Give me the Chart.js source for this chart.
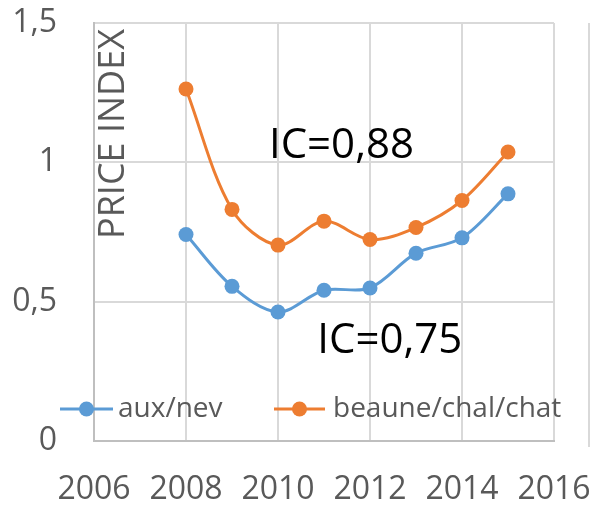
<!DOCTYPE html>
<html>
<head>
<meta charset="utf-8">
<script src="https://cdn.jsdelivr.net/npm/chart.js@4"></script>
<style>
  html, body { margin: 0; padding: 0; background: #fff; }
  #wrap { position: relative; width: 592px; height: 507px; }
  #edge { position: absolute; left: 588px; top: 23px; width: 0; height: 424px; border-left: 2px solid #d9d9d9; }
</style>
</head>
<body>
<div id="wrap">
  <canvas id="chart" width="592" height="507"></canvas>
  <div id="edge"></div>
</div>
<script>
const years = [2008, 2009, 2010, 2011, 2012, 2013, 2014, 2015];
const auxNev = [0.741, 0.555, 0.463, 0.541, 0.549, 0.674, 0.729, 0.887];
const beaune = [1.263, 0.831, 0.703, 0.789, 0.723, 0.766, 0.863, 1.037];
const seriesNames = ['aux/nev', 'beaune/chal/chat'];
const seriesColors = ['#5B9BD5', '#ED7D31'];
const annotations = [
    { text: 'IC=0,88', x: 2011.38, y: 1.06 },
    { text: 'IC=0,75', x: 2012.43, y: 0.36 }
];

const FONT = '"Open Sans", sans-serif';
const textGray = '#595959';

function fmt(v) {
    return String(v).replace('.', ',');
}

// extra texts and the legend drawn inside the plot, like the original
const overlay = {
    id: 'overlay',
    afterDatasetsDraw(chart) {
        const ctx = chart.ctx;
        const xs = chart.scales.x;
        const ys = chart.scales.y;
        ctx.save();

        // axis title sits inside the plot area
        ctx.translate(114, 134);
        ctx.rotate(-Math.PI / 2);
        ctx.font = '36px ' + FONT;
        ctx.fillStyle = textGray;
        ctx.textAlign = 'center';
        ctx.textBaseline = 'middle';
        ctx.fillText('PRICE INDEX', 0, 0);
        ctx.setTransform(1, 0, 0, 1, 0, 0);

        ctx.font = '42px ' + FONT;
        ctx.fillStyle = '#000';
        ctx.textAlign = 'center';
        ctx.textBaseline = 'middle';
        annotations.forEach(a => {
            ctx.fillText(a.text, xs.getPixelForValue(a.x), ys.getPixelForValue(a.y));
        });

        // legend
        const items = [{ x0: 60, x1: 113, tx: 118 }, { x0: 274, x1: 325, tx: 333 }];
        const ly = 409;
        ctx.font = '28px ' + FONT;
        ctx.textAlign = 'left';
        items.forEach((it, i) => {
            ctx.strokeStyle = seriesColors[i];
            ctx.lineWidth = 3;
            ctx.beginPath();
            ctx.moveTo(it.x0, ly);
            ctx.lineTo(it.x1, ly);
            ctx.stroke();
            ctx.fillStyle = seriesColors[i];
            ctx.beginPath();
            ctx.arc((it.x0 + it.x1) / 2, ly, 7.5, 0, Math.PI * 2);
            ctx.fill();
            ctx.fillStyle = textGray;
            ctx.fillText(seriesNames[i], it.tx, ly);
        });
        ctx.restore();
    }
};

function makeSet(i, values) {
    return {
        label: seriesNames[i],
        data: years.map((y, k) => ({ x: y, y: values[k] })),
        borderColor: seriesColors[i],
        backgroundColor: seriesColors[i],
        borderWidth: 3,
        pointRadius: 7.5,
        pointBorderWidth: 0,
        tension: 0.33,
        fill: false
    };
}

new Chart(document.getElementById('chart'), {
    type: 'line',
    data: {
        datasets: [makeSet(0, auxNev), makeSet(1, beaune)]
    },
    options: {
        responsive: false,
        animation: false,
        layout: { padding: { top: 23, right: 38, left: 0, bottom: 0 } },
        plugins: {
            legend: { display: false },
            tooltip: { enabled: false }
        },
        scales: {
            x: {
                type: 'linear',
                min: 2006,
                max: 2016,
                ticks: {
                    stepSize: 2,
                    padding: 30,
                    color: textGray,
                    font: { family: FONT, size: 32 },
                    callback: v => String(v)
                },
                grid: { color: '#d9d9d9', lineWidth: 2, drawTicks: false },
                border: { color: '#bfbfbf', width: 2 },
                afterFit: s => {
                    s.height = 66;
                    s.paddingLeft = 0;
                    s.paddingRight = 0;
                }
            },
            y: {
                min: 0,
                max: 1.5,
                ticks: {
                    stepSize: 0.5,
                    padding: 37,
                    color: textGray,
                    font: { family: FONT, size: 32 },
                    callback: v => fmt(v)
                },
                grid: { color: '#d9d9d9', lineWidth: 2, drawTicks: false },
                border: { color: '#bfbfbf', width: 2 },
                afterFit: s => {
                    s.width = 94;
                    s.paddingTop = 0;
                    s.paddingBottom = 0;
                }
            }
        }
    },
    plugins: [overlay]
});
</script>
</body>
</html>
